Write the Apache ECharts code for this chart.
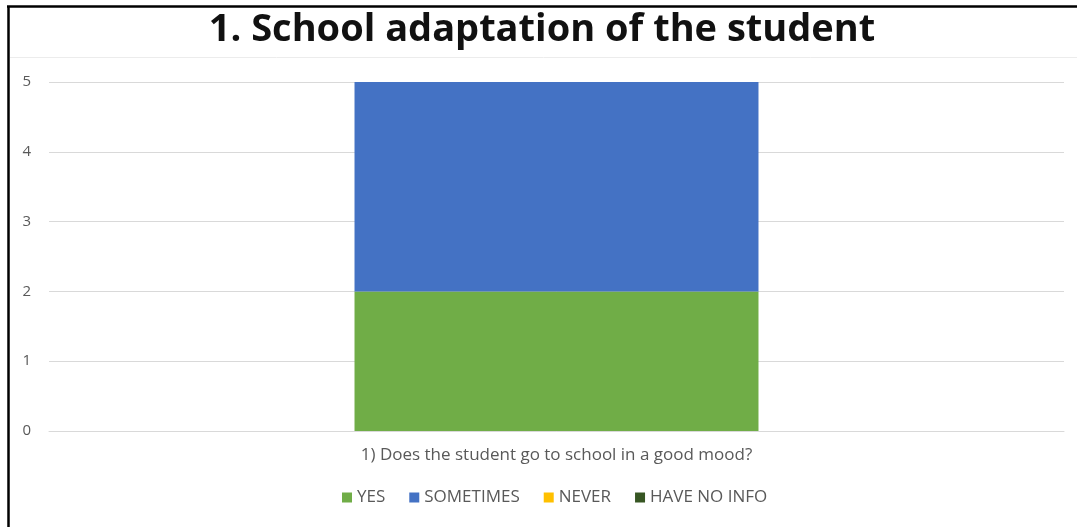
<!DOCTYPE html>
<html><head><meta charset="utf-8">
<script src="https://cdn.jsdelivr.net/npm/echarts@6/dist/echarts.min.js"></script>
<style>html,body{margin:0;padding:0;background:#fff}#c{width:1077px;height:527px}</style>
</head><body><div id="c"></div>
<script>
const categories = ['1) Does the student go to school in a good mood?'];
const seriesNames = ['YES', 'SOMETIMES', 'NEVER', 'HAVE NO INFO'];
const yesValues = [2];
const sometimesValues = [3];
const neverValues = [0];
const noInfoValues = [0];
const yTicks = [0, 1, 2, 3, 4, 5];
const colors = ['#70AD47', '#4472C4', '#FFC000', '#375623'];
const allValues = [yesValues, sometimesValues, neverValues, noInfoValues];

const chart = echarts.init(document.getElementById('c'));
chart.setOption({
  animation: false,
  title: {
    text: '1. School adaptation of the student',
    left: 537, textAlign: 'center', top: 6,
    textStyle: { fontFamily: 'Open Sans', fontWeight: 'bold', fontSize: 38, color: '#111' }
  },
  legend: {
    bottom: 16, left: 337,
    itemWidth: 10, itemHeight: 10, itemGap: 24, icon: 'rect',
    textStyle: { fontFamily: 'Open Sans', fontSize: 17, color: '#595959' },
    data: seriesNames
  },
  grid: { left: 49, right: 13, top: 82, bottom: 96 },
  xAxis: {
    type: 'category', data: categories,
    axisLine: { show: true, lineStyle: { color: '#d9d9d9', width: 1 } },
    axisTick: { show: false },
    axisLabel: { margin: 16, fontFamily: 'Open Sans', fontSize: 17, color: '#595959' }
  },
  yAxis: {
    type: 'value', min: yTicks[0], max: yTicks[yTicks.length - 1], interval: 1,
    axisLine: { show: false }, axisTick: { show: false },
    axisLabel: { margin: 18, fontFamily: 'Open Sans', fontSize: 15, color: '#595959' },
    splitLine: { lineStyle: { color: '#d9d9d9', width: 1 } }
  },
  series: seriesNames.map((n, i) => ({
    name: n, type: 'bar', stack: 'total', data: allValues[i],
    barWidth: '39.8%', itemStyle: { color: colors[i] }
  })),
  graphic: [
    { type: 'line', shape: { x1: 7, y1: 6.5, x2: 1077, y2: 6.5 }, style: { stroke: '#000', lineWidth: 2.5 } },
    { type: 'line', shape: { x1: 8.5, y1: 6, x2: 8.5, y2: 527 }, style: { stroke: '#000', lineWidth: 2.5 } },
    { type: 'line', shape: { x1: 10, y1: 57.5, x2: 1077, y2: 57.5 }, style: { stroke: '#ececec', lineWidth: 1 } }
  ]
});
</script></body></html>
